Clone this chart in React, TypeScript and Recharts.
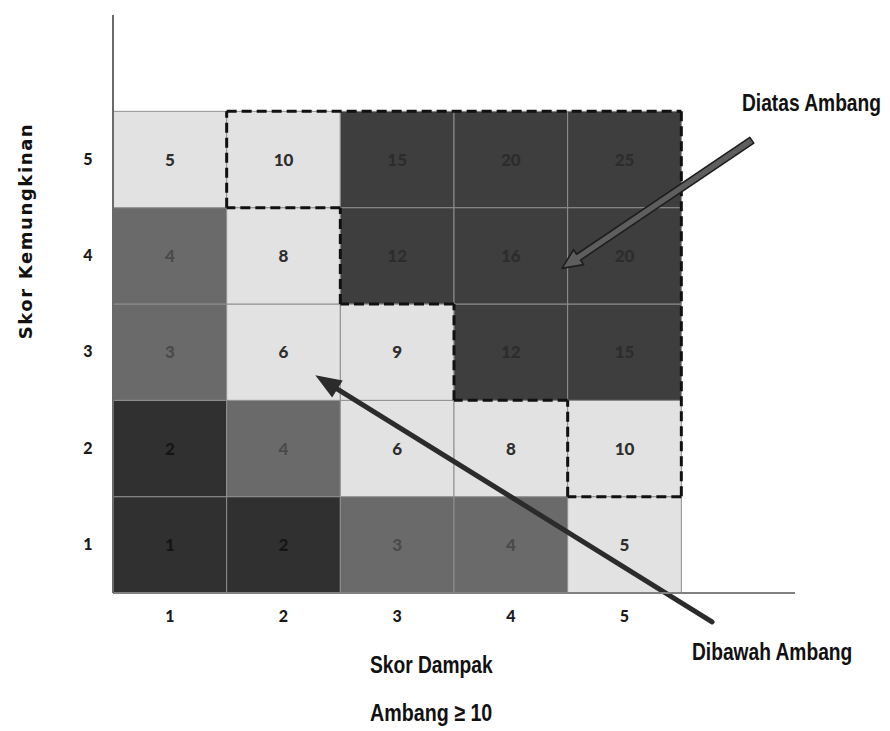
import { ScatterChart, Scatter, XAxis, YAxis, ReferenceArea, ReferenceLine } from "recharts";

// Skor Dampak (x) dan Skor Kemungkinan (y)
const impactScores = [1, 2, 3, 4, 5];
const likelihoodScores = [1, 2, 3, 4, 5];

// nilai risiko per baris, dari kemungkinan 1 (bawah) sampai 5 (atas)
const riskRows = [
  [1, 2, 3, 4, 5],
  [2, 4, 6, 8, 10],
  [3, 6, 9, 12, 15],
  [4, 8, 12, 16, 20],
  [5, 10, 15, 20, 25],
];

// batas ambang (garis putus-putus) dalam koordinat data
const thresholdOutline = [
  { x: 1.5, y: 5.5 },
  { x: 5.5, y: 5.5 },
  { x: 5.5, y: 1.5 },
  { x: 4.5, y: 1.5 },
  { x: 4.5, y: 2.5 },
  { x: 3.5, y: 2.5 },
  { x: 3.5, y: 3.5 },
  { x: 2.5, y: 3.5 },
  { x: 2.5, y: 4.5 },
  { x: 1.5, y: 4.5 },
  { x: 1.5, y: 5.5 },
];

const aboveArrow = [
  { x: 6.12, y: 5.2 },
  { x: 4.45, y: 3.87 },
];
const belowArrow = [
  { x: 5.77, y: 0.2 },
  { x: 2.28, y: 2.76 },
];

const cells = likelihoodScores.flatMap((l, ri) =>
  impactScores.map((im, ci) => ({ x: im, y: l, value: riskRows[ri][ci] }))
);

const cellFill = (v: number) => {
  if (v <= 2) return "#303030";
  if (v <= 4) return "#6a6a6a";
  if (v <= 10) return "#e2e2e2";
  return "#3e3e3e";
};
const textFill = (v: number) => {
  if (v <= 2) return "#151515";
  if (v <= 4) return "#4a4a4a";
  if (v <= 10) return "#2e2e2e";
  return "#2c2c2c";
};

const numFont = "Lato, 'Open Sans', sans-serif";
const headFont = "'Liberation Sans', Arial, sans-serif";

function CellLabel(props: any) {
  const { cx, cy, payload } = props;
  return (
    <text x={cx} y={cy + 6} textAnchor="middle" fontFamily={numFont} fontWeight={900} fontSize={17} fill={textFill(payload.value)}>
      {payload.value}
    </text>
  );
}

function XTick(props: any) {
  const { x, y, payload } = props;
  return (
    <text x={x} y={y + 29} textAnchor="middle" fontFamily={numFont} fontWeight={900} fontSize={16} fill="#1a1a1a">
      {payload.value}
    </text>
  );
}

function YTick(props: any) {
  const { x, y, payload } = props;
  return (
    <text x={x - 25} y={y + 5} textAnchor="middle" fontFamily={numFont} fontWeight={900} fontSize={16} fill="#1a1a1a">
      {payload.value}
    </text>
  );
}

function SolidArrow(props: any) {
  const { x1, y1, x2, y2 } = props;
  const a = Math.atan2(y2 - y1, x2 - x1);
  const len = 26;
  const half = 10;
  const bx = x2 - len * Math.cos(a);
  const by = y2 - len * Math.sin(a);
  const px = -Math.sin(a) * half;
  const py = Math.cos(a) * half;
  return (
    <g>
      <line x1={x1} y1={y1} x2={bx} y2={by} stroke="#2b2b2b" strokeWidth={5} strokeLinecap="round" />
      <polygon points={`${x2},${y2} ${bx + px},${by + py} ${bx - px},${by - py}`} fill="#2b2b2b" />
    </g>
  );
}

function HollowArrow(props: any) {
  const { x1, y1, x2, y2 } = props;
  const a = Math.atan2(y2 - y1, x2 - x1);
  const len = 20;
  const sh = 3.5;
  const hh = 9;
  const c = Math.cos(a);
  const s = Math.sin(a);
  const bx = x2 - len * c;
  const by = y2 - len * s;
  const nx = -s;
  const ny = c;
  const pts = [
    [x1 + nx * sh, y1 + ny * sh],
    [bx + nx * sh, by + ny * sh],
    [bx + nx * hh, by + ny * hh],
    [x2, y2],
    [bx - nx * hh, by - ny * hh],
    [bx - nx * sh, by - ny * sh],
    [x1 - nx * sh, y1 - ny * sh],
  ]
    .map((p) => p.join(","))
    .join(" ");
  return <polygon points={pts} fill="#5e5e5e" stroke="#1e1e1e" strokeWidth={1.6} strokeLinejoin="round" />;
}

// condensed bold caption: Liberation Sans Bold squeezed horizontally
function Caption({ x, y, sx, children }: { x: number; y: number; sx: number; children: string }) {
  return (
    <text
      transform={`translate(${x} ${y}) scale(${sx} 1)`}
      fontFamily={headFont}
      fontWeight={700}
      fontSize={24}
      fill="#111"
    >
      {children}
    </text>
  );
}

export default function App() {
  return (
    <div style={{ position: "absolute", left: 0, top: 0, width: 890, height: 731, background: "#fff" }}>
      <ScatterChart width={890} height={731} margin={{ top: 15, right: 95, bottom: 0, left: 0 }}>
        <XAxis
          type="number"
          dataKey="x"
          domain={[0.5, 6.5]}
          ticks={impactScores}
          height={138}
          tickSize={0}
          tickMargin={0}
          tickLine={false}
          axisLine={{ stroke: "#808080", strokeWidth: 2 }}
          tick={<XTick />}
        />
        <YAxis
          type="number"
          dataKey="y"
          domain={[0.5, 6.5]}
          ticks={likelihoodScores}
          width={113}
          tickSize={0}
          tickMargin={0}
          tickLine={false}
          axisLine={{ stroke: "#6a6a6a", strokeWidth: 2 }}
          tick={<YTick />}
        />
        {cells.map((c) => (
          <ReferenceArea
            key={`${c.x}-${c.y}`}
            x1={c.x - 0.5}
            x2={c.x + 0.5}
            y1={c.y - 0.5}
            y2={c.y + 0.5}
            fill={cellFill(c.value)}
            fillOpacity={1}
            stroke="#8e8e8e"
            strokeWidth={1}
          />
        ))}
        <Scatter data={cells} shape={<CellLabel />} isAnimationActive={false} />
        {thresholdOutline.slice(1).map((p, i) => (
          <ReferenceLine
            key={`t${i}`}
            segment={[thresholdOutline[i], p]}
            stroke="#111"
            strokeWidth={3}
            strokeDasharray="10 5"
            ifOverflow="visible"
          />
        ))}
        <ReferenceLine segment={aboveArrow} ifOverflow="visible" shape={(p: any) => <HollowArrow {...p} />} />
        <ReferenceLine segment={belowArrow} ifOverflow="visible" shape={(p: any) => <SolidArrow {...p} />} />
      </ScatterChart>

      <svg width={890} height={731} style={{ position: "absolute", left: 0, top: 0, pointerEvents: "none" }}>
        <text
          transform="translate(32 231) rotate(-90)"
          textAnchor="middle"
          fontFamily="'DejaVu Sans', Verdana, sans-serif"
          fontWeight={700}
          fontSize={18}
          letterSpacing={1.6}
          fill="#111"
        >
          Skor Kemungkinan
        </text>
        <Caption x={370} y={673} sx={0.8}>Skor Dampak</Caption>
        <Caption x={370} y={721} sx={0.82}>Ambang ≥ 10</Caption>
        <Caption x={692} y={660} sx={0.8}>Dibawah Ambang</Caption>
        <Caption x={742} y={111} sx={0.8}>Diatas Ambang</Caption>
      </svg>
    </div>
  );
}
